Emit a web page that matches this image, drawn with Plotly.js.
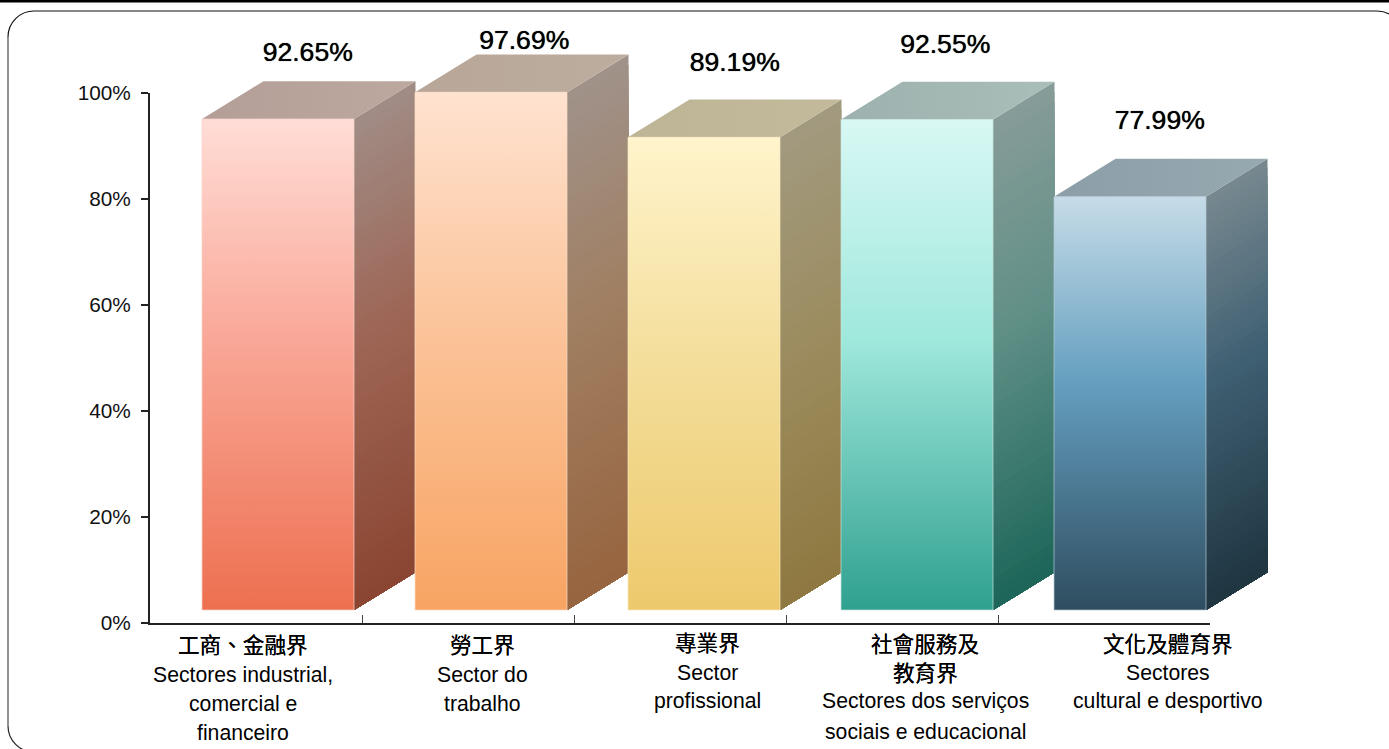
<!DOCTYPE html>
<html><head><meta charset="utf-8">
<script src="https://cdn.plot.ly/plotly-3.0.1.min.js"></script>
<style>html,body{margin:0;padding:0;background:#fff;overflow:hidden}#c{width:1389px;height:749px}</style>
</head><body><div id="c"></div>
<script>
// ---- data ----
const sectorsZh = ["工商、金融界","勞工界","專業界","社會服務及<br>教育界","文化及體育界"];
const sectorsPt = ["Sectores industrial,<br>comercial e<br>financeiro","Sector do<br>trabalho","Sector<br>profissional","Sectores dos serviços<br>sociais e educacional","Sectores<br>cultural e desportivo"];
const values = [92.65,97.69,89.19,92.55,77.99];
const yTicks = [0,20,40,60,80,100];
// ---- styles ----
const frontColors = [["#FFDDD6","#F9A797","#ED7050"],["#FFE2D0","#FBC49A","#F8A463"],["#FFF4CC","#F4DF9D","#EDC96C"],["#D8F8F4","#9FE8DC","#2FA08F"],["#C6DCE8","#649FBF","#2F4D60"]];
const sideColors = [["#A08D86","#9E6656","#8A4531"],["#A0928A","#A07F62","#97653F"],["#A29A80","#9C8D60","#8F7840"],["#879C98","#5F8F86","#1C6558"],["#77888F","#3F6073","#1F3540"]];
const topColors = [["#B49F98","#BCA89F"],["#B8A798","#BDAD9F"],["#BEB596","#C3BA9C"],["#9DB2AE","#A9BEB9"],["#8C9FA8","#96A9B1"]];
const edgeColors = ["#F8D4CB","#FBDCC4","#F6E8BE","#C4E4DE","#B4C8D2"];
const labelLift = [5.1,2.2,6.7,6.6,6.8];
const labelNudge = [-1,2.5,0,-2.5,-1];

// ---- geometry of the scale (pixels) ----
const W=1389,H=749,X0=150,X1=1210,YB=623,YT=93;
const pxTick=(X1-X0)/5, pxBar=213, pxY=(YB-YT)/100;
const barLeft=52/pxBar, barW=152/pxBar, depthX=61.5/pxBar, depthY=37.8/pxY, floor=2.45;
const MID=0.45, STRIPS=48;

function hex(c){return [1,3,5].map(i=>parseInt(c.substr(i,2),16));}
function mix(cs,t){ // t 0 top, 1 bottom, with mid stop
  const [a,b,u]= t<MID?[cs[0],cs[1],t/MID]:[cs[1],cs[2],(t-MID)/(1-MID)];
  const A=hex(a),B=hex(b);
  return 'rgb('+A.map((v,i)=>Math.round(v+(B[i]-v)*u)).join(',')+')';
}
const traces=[];
// carries the visible axes
traces.push({xaxis:'x',yaxis:'y',mode:'markers',x:values.map((v,i)=>i+0.5),y:values,marker:{opacity:0,size:1},hoverinfo:'skip',showlegend:false});
const base={xaxis:'x2',yaxis:'y2',mode:'lines',hoverinfo:'skip',showlegend:false};
values.forEach((v,i)=>{
  const l=i+barLeft,r=l+barW,top=v+floor;
  // side face, painted band by band
  for(let s=0;s<STRIPS;s++){
    const yS=top+(floor-top)*s/STRIPS;
    traces.push({...base,x:[r,r+depthX,r+depthX,r,r],y:[yS,yS+depthY,floor+depthY,floor,yS],
      fill:'toself',fillcolor:mix(sideColors[i],(s+0.5)/STRIPS),line:{width:0}});
  }
  // top face
  traces.push({...base,x:[l,l+depthX,r+depthX,r,l],y:[top,top+depthY,top+depthY,top,top],
    fill:'toself',fillgradient:{type:'horizontal',colorscale:[[0,topColors[i][0]],[1,topColors[i][1]]]},line:{width:0}});
  // front face
  traces.push({...base,x:[l,r,r,l,l],y:[floor,floor,top,top,floor],
    fill:'toself',fillgradient:{type:'vertical',colorscale:[[0,frontColors[i][2]],[1-MID,frontColors[i][1]],[1,frontColors[i][0]]]},
    line:{width:0.7,color:edgeColors[i]}});
});
// value labels
traces.push({xaxis:'x2',yaxis:'y2',mode:'text',hoverinfo:'skip',showlegend:false,
  x:values.map((v,i)=>i+barLeft+(barW+depthX)/2+labelNudge[i]/pxBar),
  y:values.map((v,i)=>v+floor+depthY+labelLift[i]),
  text:values.map(v=>v.toFixed(2)+'%'),textposition:'middle center',
  textfont:{family:'"Liberation Sans",Arial,sans-serif',size:26.6,color:'#000',shadow:'0 0 0.8px #000'}});

// category labels, one annotation per line
const labelX=[243,482,707,925,1168];
const zhY=[[643.5],[643.5],[641.5],[642.5,671.5],[642.5]];
const ptY=[[674,703,732],[674,703],[672,701],[701,731],[672,701]];
const annos=[];
function addLine(t,x,y,fam,size,shadow){annos.push({text:t,xref:'paper',yref:'paper',x:x/W,y:1-y/H,xanchor:'center',yanchor:'middle',showarrow:false,font:{family:fam,size:size,color:'#000',shadow:shadow}});}
sectorsZh.forEach((s,i)=>s.split('<br>').forEach((t,k)=>addLine(t,labelX[i],zhY[i][k],'"Noto Sans CJK TC",sans-serif',21.6,'0 0 0.5px #000')));
sectorsPt.forEach((s,i)=>s.split('<br>').forEach((t,k)=>addLine(t,labelX[i],ptY[i][k],'"Liberation Sans",Arial,sans-serif',21.2,'none')));

const xp=x=>(x/W).toFixed(5), yp=y=>(1-y/H).toFixed(5);
const P=(x,y)=>xp(x)+','+yp(y);
const k=0.55,R=26,BL=8,BT=11,BR=1403,BB=752;
const layout={
  width:W,height:H,margin:{l:0,r:0,t:0,b:0},paper_bgcolor:'#fff',plot_bgcolor:'rgba(0,0,0,0)',showlegend:false,
  font:{family:'"Liberation Sans",Arial,sans-serif',size:20,color:'#111'},
  xaxis:{domain:[X0/W,X1/W],range:[0,5],anchor:'y',tickmode:'array',tickvals:[1,2,3,4,5],ticktext:['','','','',''],ticks:'inside',ticklen:8,tickwidth:1,tickcolor:'#444',showgrid:false,zeroline:false,showline:true,linecolor:'#222',linewidth:2,fixedrange:true},
  yaxis:{domain:[1-YB/H,1-YT/H],range:[0,100],anchor:'x',tickmode:'array',tickvals:yTicks,ticktext:yTicks.map(v=>v+'%'),ticks:'outside',ticklen:7,tickwidth:1.5,tickcolor:'#222',ticklabelstandoff:6,showgrid:false,zeroline:false,showline:true,linecolor:'#222',linewidth:2,tickfont:{size:20.8,color:'#111'},fixedrange:true},
  xaxis2:{domain:[0,1],range:[-X0/pxBar,(W-X0)/pxBar],anchor:'y2',visible:false,fixedrange:true},
  yaxis2:{domain:[0,1],range:[(YB-H)/pxY,YB/pxY],anchor:'x2',visible:false,fixedrange:true},
  annotations:annos,
  shapes:[
    {type:'rect',xref:'paper',yref:'paper',x0:0,x1:1,y0:1-2.4/H,y1:1,fillcolor:'#000',line:{width:0},layer:'above'},
    {type:'path',xref:'paper',yref:'paper',line:{color:'#111',width:1.2},layer:'below',
     path:`M${P(BL,BT+R)} C${P(BL,BT+R*(1-k))} ${P(BL+R*(1-k),BT)} ${P(BL+R,BT)} L${P(BR-R,BT)} C${P(BR-R*(1-k),BT)} ${P(BR,BT+R*(1-k))} ${P(BR,BT+R)}`},
    {type:'path',xref:'paper',yref:'paper',line:{color:'#777',width:1.6},layer:'below',
     path:`M${P(BL,BT+R)} L${P(BL,BB-R)}`},
    {type:'path',xref:'paper',yref:'paper',line:{color:'#222',width:1.2},layer:'below',
     path:`M${P(BL,BB-R)} C${P(BL,BB-R*(1-k))} ${P(BL+R*(1-k),BB)} ${P(BL+R,BB)}`}
  ]
};
Plotly.newPlot('c',traces,layout,{displayModeBar:false,staticPlot:true});
</script></body></html>
